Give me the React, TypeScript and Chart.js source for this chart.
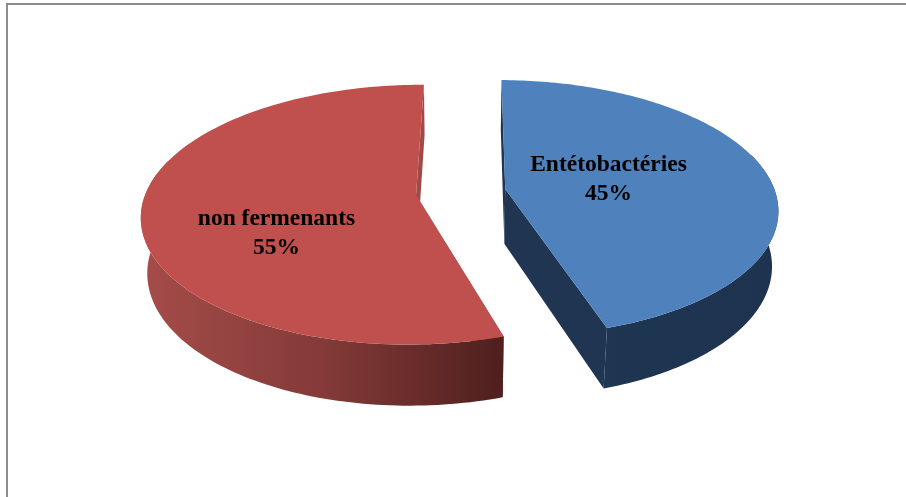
import React, { useEffect, useRef } from "react";
import { Chart, registerables } from "chart.js";

Chart.register(...registerables);

const categories = ["Entétobactéries", "non fermenants"];
const shares = [45, 55];
const topColors = ["#4F81BD", "#C0504D"];
const cutColors = ["#1F3552", "#A04A47"];
const wallStops = [
  ["#20375A", "#1E3551", "#1D3350"],
  ["#A44C49", "#833A38", "#4E1F1D"],
];

const WIDTH = 906;
const HEIGHT = 497;

// Camera of the tilted pie: unit-disc coordinates go to canvas pixels.
const view = { cx: 460.8, cy: 192, sx: 270, sy: 126, k: 0.15, depth: 56, depthK: 0.02, explode: 0.167 };
const wallSpans = [
  [505, 780],
  [145, 505],
];
const labelAnchors = [
  { x: 608.5, y: 165 },
  { x: 276.5, y: 219 },
];

type Pt = [number, number];

function project(u: number, v: number, z: number): Pt {
  const w = 1 + view.k * v + view.depthK * z;
  return [view.cx + (view.sx * u) / w, view.cy + (-view.sy * v + view.depth * z) / w];
}

function fillPolygon(ctx: CanvasRenderingContext2D, pts: Pt[], fill: string | CanvasGradient) {
  ctx.beginPath();
  pts.forEach(([x, y], i) => (i ? ctx.lineTo(x, y) : ctx.moveTo(x, y)));
  ctx.closePath();
  ctx.fillStyle = fill;
  ctx.fill();
}

const pie3d = {
  id: "pie3d",
  beforeDatasetsDraw(chart: any) {
    const ctx: CanvasRenderingContext2D = chart.ctx;
    const arcs = chart.getDatasetMeta(0).data;
    ctx.save();
    const slices = arcs.map((arc: any, i: number) => {
      // Angles measured clockwise from twelve o'clock.
      const a0 = arc.startAngle + Math.PI / 2;
      const a1 = arc.endAngle + Math.PI / 2;
      const mid = (a0 + a1) / 2;
      const ou = Math.sin(mid) * view.explode;
      const ov = Math.cos(mid) * view.explode;
      const rim: [number, number, number][] = [];
      const steps = 160;
      for (let s = 0; s <= steps; s++) {
        const t = a0 + ((a1 - a0) * s) / steps;
        rim.push([ou + Math.sin(t), ov + Math.cos(t), Math.cos(t)]);
      }
      return { i, ou, ov, rim };
    });

    // Flat cut faces go first, the top faces cover whatever is out of sight.
    slices.forEach(({ i, ou, ov, rim }: any) => {
      const first = rim[0];
      const last = rim[rim.length - 1];
      fillPolygon(ctx, [project(ou, ov, 0), project(first[0], first[1], 0), project(first[0], first[1], 1), project(ou, ov, 1)], cutColors[i]);
      fillPolygon(ctx, [project(ou, ov, 0), project(last[0], last[1], 0), project(last[0], last[1], 1), project(ou, ov, 1)], cutColors[i]);
    });

    // Outer walls: only the part of the rim facing the viewer, shaded left to right.
    slices.forEach(({ i, rim }: any) => {
      const span = wallSpans[i];
      const g = ctx.createLinearGradient(span[0], 0, span[1], 0);
      wallStops[i].forEach((c, n) => g.addColorStop(n / (wallStops[i].length - 1), c));
      const front = rim.filter((p: number[]) => p[2] < 0.3);
      const upper = front.map(([u, v]: number[]) => project(u, v, 0));
      const lower = front.map(([u, v]: number[]) => project(u, v, 1)).reverse();
      fillPolygon(ctx, [...upper, ...lower], g);
    });

    slices.forEach(({ i, ou, ov, rim }: any) => {
      const pts = [project(ou, ov, 0), ...rim.map(([u, v]: number[]) => project(u, v, 0))];
      fillPolygon(ctx, pts, topColors[i]);
    });
    ctx.restore();
    return false;
  },
  afterDraw(chart: any) {
    const ctx: CanvasRenderingContext2D = chart.ctx;
    ctx.save();
    // Two-sided frame along the top and the left of the chart area.
    ctx.fillStyle = "#8C8C8C";
    ctx.fillRect(6, 3, WIDTH - 6, 2);
    ctx.fillRect(6, 3, 2, HEIGHT - 3);

    ctx.fillStyle = "#000000";
    ctx.font = 'bold 23.5px "Liberation Serif"';
    ctx.textAlign = "center";
    ctx.textBaseline = "middle";
    categories.forEach((name, i) => {
      ctx.fillText(name, labelAnchors[i].x, labelAnchors[i].y);
      ctx.fillText(`${shares[i]}%`, labelAnchors[i].x, labelAnchors[i].y + 28.5);
    });
    ctx.restore();
  },
};

export default function App() {
  const ref = useRef<HTMLCanvasElement>(null);
  useEffect(() => {
    const chart = new Chart(ref.current!, {
      type: "pie",
      data: {
        labels: categories,
        datasets: [{ data: shares, backgroundColor: topColors, borderWidth: 0 }],
      },
      options: {
        animation: false,
        responsive: false,
        rotation: 0.5,
        plugins: { legend: { display: false }, tooltip: { enabled: false } },
      },
      plugins: [pie3d],
    } as any);
    return () => chart.destroy();
  }, []);
  return (
    <div style={{ position: "fixed", left: 0, top: 0, width: WIDTH, height: HEIGHT, background: "#FFFFFF" }}>
      <canvas ref={ref} width={WIDTH} height={HEIGHT} style={{ display: "block" }} />
    </div>
  );
}
